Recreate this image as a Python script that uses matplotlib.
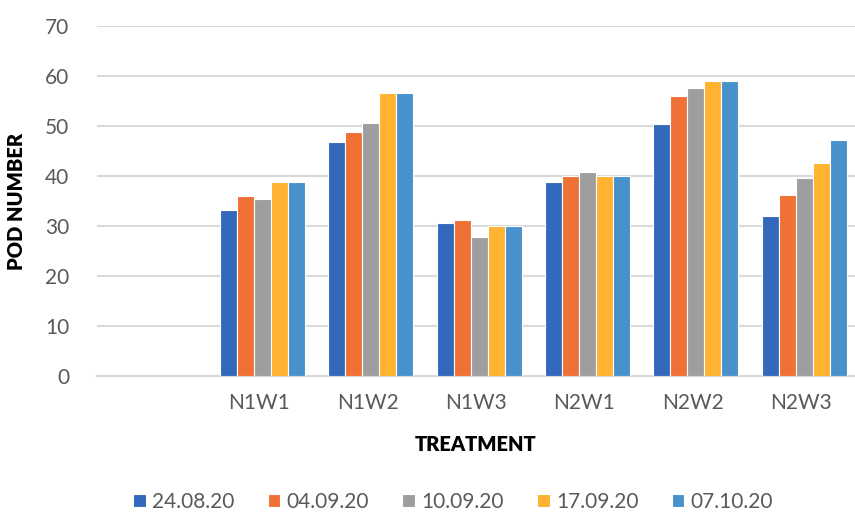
import numpy as np
import matplotlib
matplotlib.use("Agg")
import matplotlib.pyplot as plt

plt.rcParams['font.family'] = ['Lato', 'DejaVu Sans']

treatments = ['', 'N1W1', 'N1W2', 'N1W3', 'N2W1', 'N2W2', 'N2W3']
dates = ['24.08.20', '04.09.20', '10.09.20', '17.09.20', '07.10.20']
values = {
    '24.08.20': [0, 33.3, 46.9, 30.6, 38.9, 50.5, 32.1],
    '04.09.20': [0, 36.1, 48.9, 31.3, 40.1, 56.1, 36.3],
    '10.09.20': [0, 35.5, 50.6, 27.9, 40.9, 57.7, 39.6],
    '17.09.20': [0, 38.9, 56.7, 30.1, 40.0, 59.1, 42.6],
    '07.10.20': [0, 38.9, 56.7, 30.1, 40.0, 59.1, 47.2],
}
colors = ['#3468BC', '#F07135', '#9E9E9E', '#FFB330', '#4891CC']

fig = plt.figure(figsize=(8.55, 5.18), dpi=100)
ax = fig.add_axes([0.1135, 0.2741, 0.8865, 0.6757])

x = np.arange(len(treatments))
w = 0.157
for i, d in enumerate(dates):
    vals = np.array(values[d], dtype=float)
    vals[vals == 0] = np.nan
    ax.bar(x + (i - 2) * w + 0.03, vals, width=w, color=colors[i],
           edgecolor='white', linewidth=0.8, label=d, zorder=3)

ax.set_xlim(-0.5, len(treatments) - 0.5)
ax.set_ylim(0, 70)
ax.set_yticks(range(0, 71, 10))
ax.set_xticks(x)
ax.set_xticklabels(treatments)
ax.grid(axis='y', color='#d9d9d9', linewidth=1.5, zorder=0)
for s in ['top', 'right', 'left']:
    ax.spines[s].set_visible(False)
ax.spines['bottom'].set_color('#d9d9d9')
ax.spines['bottom'].set_linewidth(1.5)
ax.tick_params(length=0, labelsize=15, labelcolor='#595959')
ax.tick_params(axis='y', pad=20)
ax.tick_params(axis='x', pad=12)

ax.set_ylabel('POD NUMBER', fontsize=14.5, fontweight='heavy', labelpad=14)
ax.set_xlabel('TREATMENT', fontsize=14.5, fontweight='heavy', labelpad=16)

fig.legend(loc='lower center', bbox_to_anchor=(0.53, -0.025), ncol=5,
           frameon=False, fontsize=15, handlelength=0.6, handleheight=0.6,
           handletextpad=0.3, columnspacing=1.6, labelcolor='#595959')

fig.savefig('out.png', dpi=100)
